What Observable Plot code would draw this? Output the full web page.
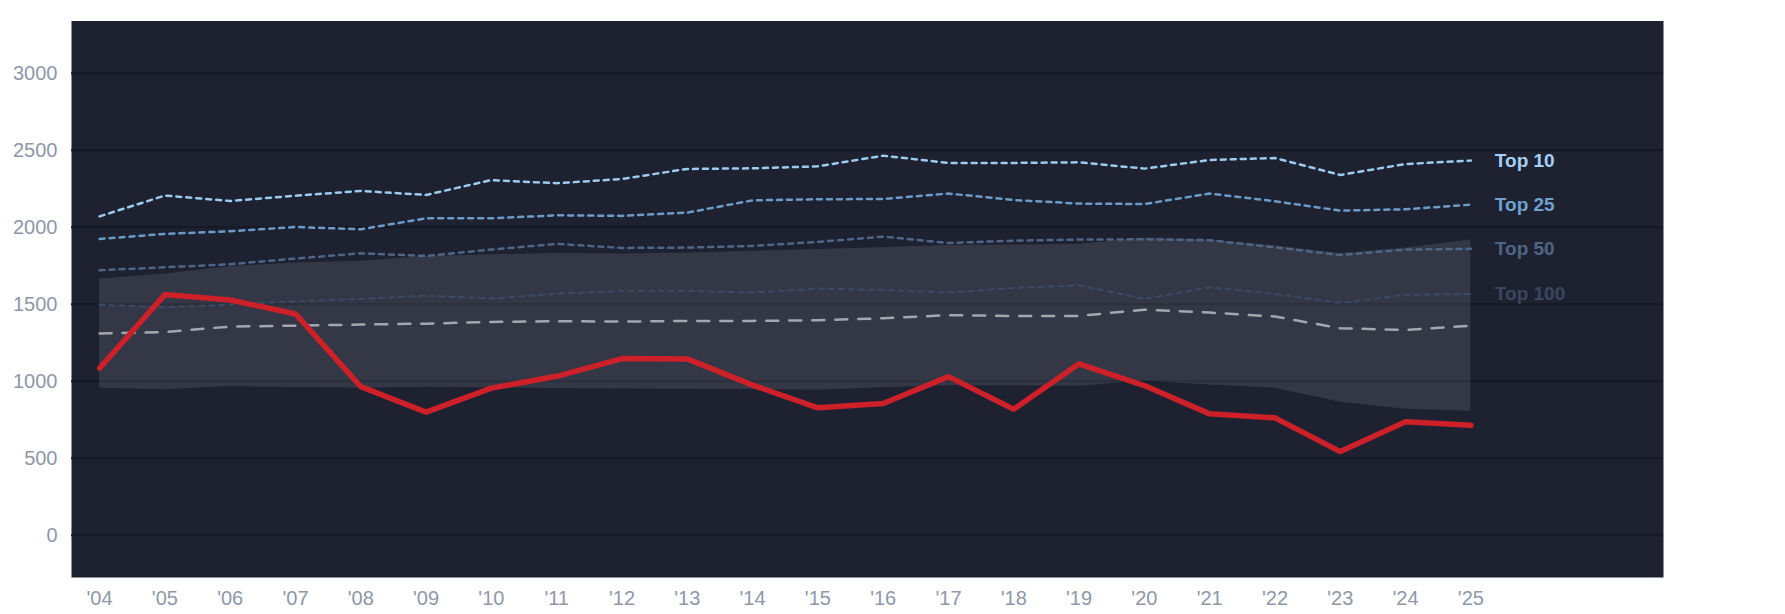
<!DOCTYPE html>
<html>
<head>
<meta charset="utf-8">
<script src="https://cdn.jsdelivr.net/npm/d3@7"></script>
<script src="https://cdn.jsdelivr.net/npm/@observablehq/plot@0.6"></script>
<style>
  html, body { margin: 0; padding: 0; background: #ffffff; }
  #chart { width: 1785px; height: 614px; }
</style>
</head>
<body>
<div id="chart"></div>
<script>
const years = [2004,2005,2006,2007,2008,2009,2010,2011,2012,2013,2014,2015,2016,2017,2018,2019,2020,2021,2022,2023,2024,2025];
const top10  = [2071,2206,2171,2205,2236,2210,2307,2286,2314,2379,2383,2396,2465,2418,2418,2422,2381,2437,2450,2340,2411,2433];
const top25  = [1924,1957,1974,2002,1987,2058,2058,2078,2074,2095,2175,2182,2184,2219,2177,2154,2151,2219,2169,2108,2117,2147];
const top50  = [1721,1740,1760,1797,1831,1814,1855,1892,1866,1868,1879,1905,1939,1898,1913,1920,1922,1916,1870,1820,1855,1860];
const top100 = [1496,1480,1498,1519,1535,1556,1537,1569,1587,1587,1576,1602,1593,1576,1606,1623,1535,1610,1567,1509,1561,1567];
const median = [1310,1320,1355,1361,1368,1374,1385,1390,1387,1392,1392,1396,1409,1429,1424,1424,1465,1446,1420,1344,1333,1361];
const bandHigh = [1664,1697,1745,1768,1779,1810,1822,1829,1827,1833,1844,1855,1868,1881,1885,1890,1930,1918,1880,1830,1866,1918];
const bandLow  = [955,944,965,959,955,961,958,952,950,948,946,942,957,970,970,968,1000,976,955,864,818,805];
const player = [1084,1563,1528,1437,965,799,955,1032,1147,1145,975,827,855,1030,818,1113,972,788,762,543,736,714];
const yTicks = [0,500,1000,1500,2000,2500,3000];
const seriesLabels = ["Top 10","Top 25","Top 50","Top 100"];

const rows = years.map((year, i) => ({
  year, top10: top10[i], top25: top25[i], top50: top50[i], top100: top100[i],
  median: median[i], hi: bandHigh[i], lo: bandLow[i], player: player[i]
}));
const last = rows[rows.length - 1];
const labelRows = [
  {name: seriesLabels[0], value: last.top10, color: "#a3d2f6"},
  {name: seriesLabels[1], value: last.top25, color: "#6ea2d0"},
  {name: seriesLabels[2], value: last.top50, color: "#4e6586"},
  {name: seriesLabels[3], value: last.top100, color: "#3a4760"}
];

const chart = Plot.plot({
  width: 1785,
  height: 614,
  marginLeft: 71,
  marginRight: 122,
  marginTop: 20.5,
  marginBottom: 37,
  style: {background: "#ffffff", color: "#8f97a8", fontFamily: "'Liberation Sans', Arial, Helvetica, sans-serif", fontSize: "20px"},
  x: {type: "linear", domain: [2003.57, 2027.95], label: null},
  y: {type: "linear", domain: [-275, 3340], label: null},
  marks: [
    Plot.frame({fill: "#1d2130", stroke: "none"}),
    Plot.gridY(yTicks, {stroke: "#151924", strokeOpacity: 1, strokeWidth: 2}),
    Plot.areaY(rows, {x: "year", y1: "lo", y2: "hi", fill: "#ffffff", fillOpacity: 0.1, curve: "linear"}),
    Plot.line(rows, {x: "year", y: "top100", stroke: "#3b4a66", strokeWidth: 2, strokeDasharray: "5,5"}),
    Plot.line(rows, {x: "year", y: "top50", stroke: "#4d6688", strokeWidth: 2.5, strokeDasharray: "5,5"}),
    Plot.line(rows, {x: "year", y: "top25", stroke: "#6b9bc8", strokeWidth: 2.5, strokeDasharray: "5,5"}),
    Plot.line(rows, {x: "year", y: "top10", stroke: "#9ccbf0", strokeWidth: 2.5, strokeDasharray: "5,5"}),
    Plot.line(rows, {x: "year", y: "median", stroke: "#a3a7b0", strokeWidth: 2.5, strokeDasharray: "12,11"}),
    Plot.line(rows, {x: "year", y: "player", stroke: "#cd2029", strokeWidth: 5.5, strokeLinejoin: "miter"}),
    Plot.text(labelRows, {x: () => last.year, y: "value", text: "name", fill: "color", dx: 24, textAnchor: "start", fontWeight: "bold", fontSize: 19}),
    Plot.axisY(yTicks, {tickSize: 0, tickPadding: 14, fontSize: 20, fill: "#8f97a8", label: null, tickFormat: d => String(d)}),
    Plot.axisX(years, {tickSize: 0, tickPadding: 13, fontSize: 20, fill: "#8f97a8", label: null, tickFormat: d => "'" + String(d).slice(2)})
  ]
});
document.getElementById("chart").appendChild(chart);
</script>
</body>
</html>
